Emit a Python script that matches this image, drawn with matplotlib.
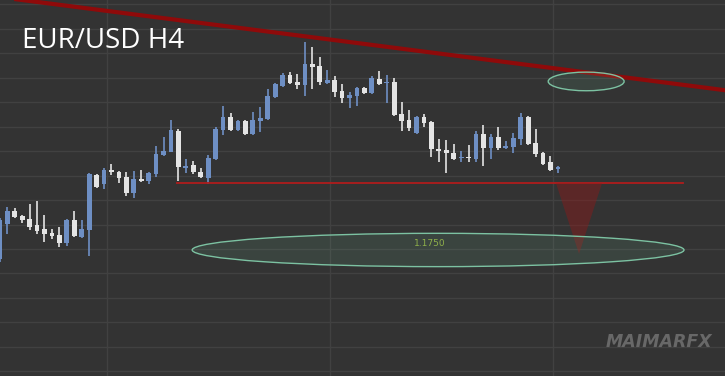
import numpy as np
import matplotlib.pyplot as plt
from matplotlib.patches import Ellipse, Polygon

# EUR/USD H4 candles
opens = [1.1740, 1.1776, 1.1789, 1.1784, 1.1781, 1.1774, 1.1770, 1.1766, 1.1764, 1.1756,
         1.1780, 1.1762, 1.1769, 1.1826, 1.1816, 1.1831, 1.1829, 1.1823, 1.1807, 1.1821,
         1.1819, 1.1827, 1.1846, 1.1849, 1.1870, 1.1833, 1.1836, 1.1829, 1.1822, 1.1842,
         1.1871, 1.1885, 1.1871, 1.1881, 1.1867, 1.1881, 1.1883, 1.1905, 1.1916, 1.1928,
         1.1920, 1.1917, 1.1939, 1.1937, 1.1919, 1.1922, 1.1911, 1.1904, 1.1906, 1.1914,
         1.1909, 1.1923, 1.1919, 1.1920, 1.1888, 1.1882, 1.1868, 1.1885, 1.1880, 1.1852,
         1.1851, 1.1848, 1.1843, 1.1844, 1.1842, 1.1867, 1.1853, 1.1864, 1.1853, 1.1854,
         1.1862, 1.1885, 1.1858, 1.1848, 1.1839, 1.1832]
highs = [1.1782, 1.1793, 1.1792, 1.1785, 1.1796, 1.1799, 1.1785, 1.1770, 1.1772, 1.1781,
         1.1789, 1.1780, 1.1828, 1.1827, 1.1833, 1.1837, 1.1830, 1.1829, 1.1830, 1.1831,
         1.1829, 1.1855, 1.1864, 1.1882, 1.1872, 1.1842, 1.1840, 1.1833, 1.1846, 1.1874,
         1.1896, 1.1889, 1.1882, 1.1882, 1.1890, 1.1895, 1.1913, 1.1919, 1.1930, 1.1931,
         1.1929, 1.1961, 1.1956, 1.1946, 1.1933, 1.1927, 1.1918, 1.1910, 1.1915, 1.1915,
         1.1927, 1.1932, 1.1928, 1.1924, 1.1900, 1.1892, 1.1886, 1.1888, 1.1881, 1.1862,
         1.1861, 1.1857, 1.1850, 1.1856, 1.1870, 1.1877, 1.1867, 1.1874, 1.1860, 1.1868,
         1.1889, 1.1886, 1.1872, 1.1849, 1.1845, 1.1835]
lows = [1.1737, 1.1765, 1.1782, 1.1777, 1.1769, 1.1765, 1.1757, 1.1760, 1.1752, 1.1753,
        1.1762, 1.1761, 1.1743, 1.1812, 1.1811, 1.1826, 1.1817, 1.1804, 1.1802, 1.1818,
        1.1816, 1.1823, 1.1845, 1.1849, 1.1819, 1.1828, 1.1827, 1.1822, 1.1816, 1.1841,
        1.1866, 1.1870, 1.1870, 1.1866, 1.1866, 1.1869, 1.1882, 1.1904, 1.1915, 1.1918,
        1.1913, 1.1906, 1.1913, 1.1917, 1.1918, 1.1905, 1.1899, 1.1894, 1.1896, 1.1908,
        1.1908, 1.1917, 1.1899, 1.1886, 1.1870, 1.1870, 1.1867, 1.1874, 1.1844, 1.1839,
        1.1828, 1.1841, 1.1839, 1.1839, 1.1839, 1.1835, 1.1842, 1.1851, 1.1852, 1.1848,
        1.1856, 1.1856, 1.1844, 1.1836, 1.1830, 1.1828]
closes = [1.1780, 1.1789, 1.1783, 1.1780, 1.1772, 1.1768, 1.1765, 1.1763, 1.1756, 1.1780,
          1.1763, 1.1770, 1.1827, 1.1813, 1.1831, 1.1829, 1.1822, 1.1807, 1.1821, 1.1819,
          1.1828, 1.1847, 1.1850, 1.1871, 1.1834, 1.1835, 1.1829, 1.1823, 1.1843, 1.1872,
          1.1885, 1.1871, 1.1881, 1.1867, 1.1882, 1.1884, 1.1906, 1.1918, 1.1928, 1.1919,
          1.1917, 1.1939, 1.1936, 1.1920, 1.1922, 1.1910, 1.1904, 1.1907, 1.1914, 1.1909,
          1.1924, 1.1918, 1.1920, 1.1887, 1.1881, 1.1873, 1.1885, 1.1879, 1.1852, 1.1850,
          1.1848, 1.1842, 1.1844, 1.1843, 1.1867, 1.1853, 1.1864, 1.1853, 1.1855, 1.1863,
          1.1885, 1.1857, 1.1847, 1.1837, 1.1831, 1.1834]

# annotations
trend_x = [0.0, 97.5]
trend_y = [1.2007, 1.1912]
support_level = 1.1817
support_x = [23.8, 91.8]
target_level = 1.1750
target_label = "1.1750"

bg = '#333333'
up_col = '#6e8fc4'
down_col = '#e4e4e4'

fig = plt.figure(figsize=(7.25, 3.76), dpi=100, facecolor=bg)
ax = fig.add_axes([0, 0, 1, 1])
ax.set_facecolor(bg)

x = np.arange(len(opens))
o = np.array(opens)
c = np.array(closes)
colors = [up_col if cc >= oo else down_col for oo, cc in zip(o, c)]

ax.vlines(x, lows, highs, colors=colors, linewidth=1.2, zorder=3)
bottom = np.minimum(o, c)
height = np.maximum(np.abs(c - o), 0.00008)
ax.bar(x, height, bottom=bottom, width=0.64, color=colors, linewidth=0, zorder=4)

# grid
ax.set_yticks(np.arange(1.1500, 1.2100, 0.0025))
ax.set_xticks([-15.6, 14.4, 44.4, 74.4, 104.4])
ax.grid(True, color='#414141', linewidth=1)
ax.set_axisbelow(True)
ax.tick_params(length=0, labelleft=False, labelbottom=False)
for s in ax.spines.values():
    s.set_visible(False)

# trend line and support
ax.plot(trend_x, trend_y, color='#8f0a0a', linewidth=3, solid_capstyle='butt', zorder=5)
ax.plot(support_x, [support_level] * 2, color='#b01c1c', linewidth=1.3, zorder=5)

# ellipses
ax.add_patch(Ellipse((78.8, 1.1921), 10.2, 0.0019, facecolor=(0.45, 0.75, 0.6, 0.12),
                     edgecolor='#7cc2a2', linewidth=1, zorder=6))
ax.add_patch(Ellipse((58.9, 1.1749), 66.1, 0.0034, facecolor=(0.45, 0.75, 0.6, 0.12),
                     edgecolor='#7cc2a2', linewidth=1, zorder=6))
ax.text(57.8, 1.1756, target_label, color='#8fb04a', fontsize=6.5, ha='center', va='center', zorder=7)

# projection triangle
ax.add_patch(Polygon([(74.75, support_level), (80.93, support_level), (77.84, 1.1745)],
                     closed=True, facecolor=(0.55, 0.1, 0.1, 0.45), edgecolor='none', zorder=5))

ax.set_xlim(0.02, 97.46)
ax.set_ylim(1.16204, 1.20041)

fig.text(22 / 725, 1 - 41 / 376, "EUR/USD H4", color='white', fontsize=20,
         family='Open Sans', ha='left', va='center')
fig.text(659 / 725, 1 - 342 / 376, "MAIMARFX", color='#686868', fontsize=12.5,
         fontweight='bold', style='italic', ha='center', va='center')

fig.savefig("out.png", dpi=100, facecolor=bg)
